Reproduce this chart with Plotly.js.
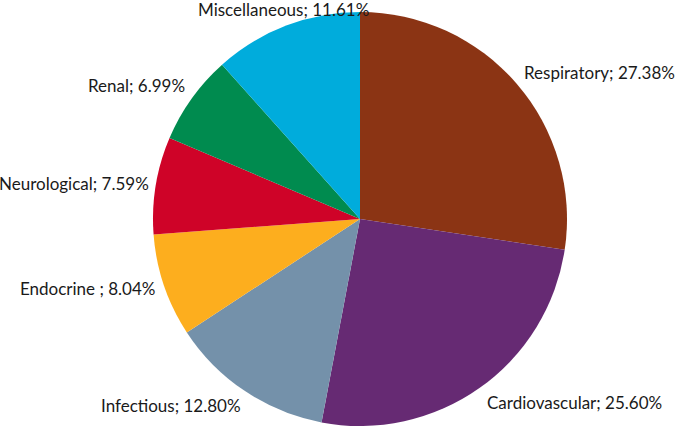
<!DOCTYPE html>
<html>
<head>
<meta charset="utf-8">
<script src="https://cdn.plot.ly/plotly-3.0.1.min.js"></script>
<style>
  html, body { margin: 0; padding: 0; background: #fff; }
  #chart { width: 680px; height: 428px; }
</style>
</head>
<body>
<div id="chart"></div>
<script>
// categories and shares, clockwise from 12 o'clock
const categories = ['Respiratory', 'Cardiovascular', 'Infectious', 'Endocrine ', 'Neurological', 'Renal', 'Miscellaneous'];
const shares = [27.38, 25.60, 12.80, 8.04, 7.59, 6.99, 11.61];
const colors = ['#8b3414', '#662a73', '#7491aa', '#fdae1e', '#cf0328', '#008b4f', '#00acdc'];

// label anchor spots (pixels in the 680x428 page)
const labelSpots = [
  {x: 522, y: 72, anchor: 'left'},
  {x: 485, y: 402, anchor: 'left'},
  {x: 171, y: 405, anchor: 'center'},
  {x: 157, y: 288, anchor: 'right'},
  {x: 151, y: 183, anchor: 'right'},
  {x: 187, y: 85, anchor: 'right'},
  {x: 283, y: 9, anchor: 'center'}
];

const W = 680, H = 428;

const annotations = categories.map((c, i) => ({
  text: c + '; ' + shares[i].toFixed(2) + '%',
  xref: 'paper', yref: 'paper',
  x: labelSpots[i].x / W,
  y: 1 - labelSpots[i].y / H,
  xanchor: labelSpots[i].anchor,
  yanchor: 'middle',
  showarrow: false,
  font: {family: 'Lato, sans-serif', size: 17, color: '#1a1a1a'}
}));

const data = [{
  type: 'pie',
  labels: categories,
  values: shares,
  sort: false,
  direction: 'clockwise',
  rotation: 0,
  marker: {colors: colors, line: {width: 0}},
  textinfo: 'none',
  hoverinfo: 'label+percent',
  domain: {x: [153 / W, 567 / W], y: [1 - 426 / H, 1 - 12 / H]}
}];

const layout = {
  width: W,
  height: H,
  margin: {l: 0, r: 0, t: 0, b: 0},
  showlegend: false,
  paper_bgcolor: '#fff',
  annotations: annotations
};

Plotly.newPlot('chart', data, layout, {displayModeBar: false, staticPlot: true});
</script>
</body>
</html>
